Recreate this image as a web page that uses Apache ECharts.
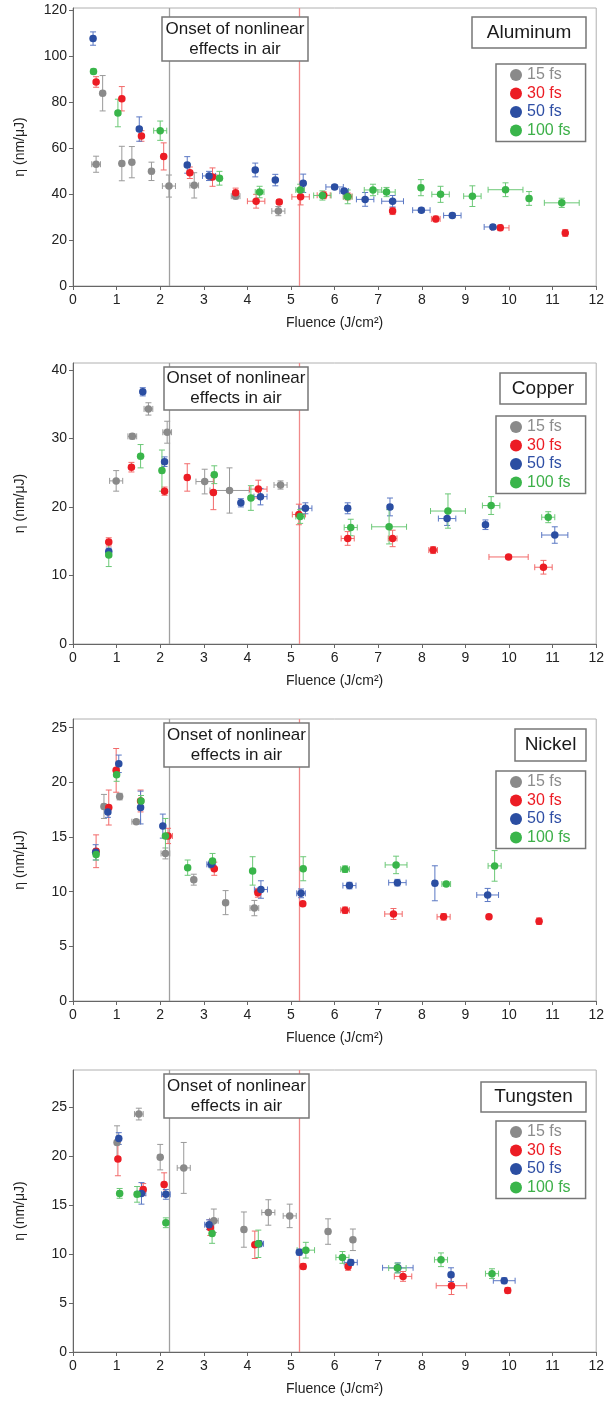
<!DOCTYPE html>
<html><head><meta charset="utf-8">
<script src="https://cdn.jsdelivr.net/npm/echarts@6/dist/echarts.min.js"></script>
<style>html,body{margin:0;padding:0;background:#fff}#c{width:607px;height:1412px}</style>
</head><body><div id="c"></div>
<script>
// ---------- labels ----------
const pulses = ['15 fs', '30 fs', '50 fs', '100 fs'];
const materials = ['Aluminum', 'Copper', 'Nickel', 'Tungsten'];
const onsetText = 'Onset of nonlinear\neffects in air';
const xName = 'Fluence (J/cm²)';
const yName = 'η (nm/μJ)';
const onsetFluence = 2.2;      // grey vertical line
const secondFluence = 5.2;     // red vertical line
const yMax = [121, 41, 25.8, 28.8];
const yStep = [20, 10, 5, 5];

// ---------- data: [fluence, eta, fluenceErr, etaErr] ----------
const al15 = [[0.53,53.0,0.1,3.5],[0.68,83.9,0.05,7.7],[1.12,53.3,0.05,7.5],[1.35,53.9,0.05,6.8],[1.8,49.9,0.05,4],[2.2,43.5,0.15,4.8],[2.78,43.8,0.1,5.5],[3.73,39.1,0.1,1.2],[4.71,32.6,0.15,2]];
const al30 = [[0.53,88.8,0.05,2.3],[1.12,81.5,0.05,5.3],[1.57,65.3,0.05,2.3],[2.08,56.4,0.05,5.9],[2.68,49.3,0.05,2.5],[3.2,47.4,0.1,4],[3.73,40.6,0.05,2],[4.2,36.9,0.2,3],[4.73,36.6,0.05,1],[5.22,38.8,0.2,3.5],[5.75,39.5,0.15,1.5],[6.3,39,0.1,1.5],[7.33,32.6,0.05,1.5],[8.32,29.2,0.1,1.2],[9.8,25.3,0.2,1.2],[11.29,23.1,0.05,1.5]];
const al50 = [[0.46,107.7,0.05,2.9],[1.52,68.3,0.05,5.3],[2.62,52.7,0.05,3.6],[3.12,47.9,0.15,2],[4.18,50.5,0.05,3],[4.64,46.1,0.05,2.5],[5.28,44.7,0.05,4],[6.0,43.1,0.2,1],[6.22,41.3,0.1,1],[6.7,37.7,0.2,3],[7.33,36.9,0.25,2.5],[7.99,33.0,0.2,1],[8.7,30.7,0.2,1],[9.63,25.7,0.2,1]];
const al100 = [[0.47,93.4,0.05,1],[1.03,75.3,0.05,6],[2.0,67.6,0.15,4.2],[3.36,46.9,0.05,3],[4.28,40.9,0.1,2.5],[5.21,41.8,0.1,2.5],[5.72,39.4,0.2,2],[6.3,38.8,0.1,3],[6.88,41.8,0.2,2.5],[7.19,40.9,0.2,2],[7.98,42.8,0.05,3.5],[8.43,39.9,0.2,3.5],[9.16,39.1,0.2,4.5],[9.92,41.9,0.4,3],[10.46,38.1,0.05,3],[11.21,36.2,0.4,2]];

const cu15 = [[0.99,23.8,0.15,1.5],[1.36,30.3,0.1,0.4],[1.73,34.3,0.1,0.9],[2.16,30.9,0.1,1.6],[3.02,23.7,0.2,1.8],[3.59,22.4,0.45,3.3],[4.76,23.2,0.15,0.6]];
const cu30 = [[0.82,14.9,0.05,0.6],[1.34,25.8,0.05,0.7],[2.1,22.3,0.05,0.6],[2.62,24.3,0.05,2],[3.22,22.1,0.05,2.5],[4.25,22.6,0.2,1.3],[5.18,18.9,0.15,1.5],[6.3,15.4,0.15,1],[7.33,15.4,0.1,1.2],[8.26,13.7,0.1,0.5],[9.99,12.7,0.45,0.3],[10.79,11.2,0.2,1]];
const cu50 = [[0.82,13.5,0.05,0.5],[1.6,36.8,0.05,0.6],[2.1,26.6,0.05,0.7],[3.85,20.6,0.05,0.6],[4.3,21.5,0.15,1.2],[5.33,19.8,0.15,0.8],[6.3,19.8,0.05,0.8],[7.27,20.0,0.05,1.3],[8.58,18.3,0.2,1],[9.46,17.4,0.05,0.7],[11.05,15.9,0.3,1.2]];
const cu100 = [[0.82,13.0,0.05,1.7],[1.55,27.4,0.05,1.7],[2.04,25.3,0.05,3],[3.24,24.7,0.05,1.3],[4.08,21.3,0.05,1.8],[5.21,18.6,0.1,1],[6.37,17.0,0.15,1.2],[7.25,17.1,0.4,2.5],[8.6,19.4,0.4,2.5],[9.59,20.2,0.2,1.3],[10.9,18.5,0.15,0.8]];

const ni15 = [[0.71,17.8,0.05,1.1],[1.07,18.7,0.05,0.3],[1.45,16.4,0.1,0.2],[2.12,13.5,0.1,0.5],[2.77,11.1,0.05,0.5],[3.5,9.0,0.05,1.1],[4.16,8.5,0.1,0.7]];
const ni30 = [[0.53,13.7,0.05,1.5],[0.82,17.7,0.05,1.6],[0.99,21.1,0.05,2],[1.55,18.3,0.05,1.0],[2.18,15.1,0.1,0.7],[3.24,12.1,0.05,0.6],[4.24,9.9,0.05,0.4],[5.27,8.9,0.05,0.2],[6.24,8.3,0.1,0.3],[7.35,7.96,0.2,0.5],[8.5,7.7,0.15,0.3],[9.54,7.7,0.05,0.2],[10.69,7.3,0.05,0.3]];
const ni50 = [[0.52,13.6,0.05,0.7],[0.8,17.3,0.05,0.5],[1.05,21.7,0.05,0.8],[1.55,17.7,0.05,1.5],[2.06,16.0,0.05,1.1],[3.17,12.5,0.1,0.3],[4.31,10.2,0.15,0.8],[5.23,9.85,0.1,0.4],[6.34,10.56,0.15,0.3],[7.44,10.83,0.2,0.3],[8.3,10.77,0.05,1.6],[9.51,9.7,0.25,0.6]];
const ni100 = [[0.53,13.4,0.05,0.5],[1.0,20.7,0.05,0.6],[1.56,18.3,0.05,0.5],[2.12,15.1,0.05,1.6],[2.63,12.2,0.05,0.7],[3.2,12.8,0.05,0.7],[4.12,11.9,0.05,1.3],[5.28,12.1,0.05,1.1],[6.24,12.06,0.1,0.3],[7.41,12.45,0.25,0.8],[8.56,10.7,0.1,0.2],[9.67,12.36,0.15,1.4]];

const w15 = [[1.01,21.4,0.05,1.7],[1.51,24.3,0.1,0.6],[2.0,19.9,0.05,1.3],[2.54,18.8,0.15,2.6],[3.23,13.4,0.1,1.2],[3.92,12.5,0.05,1.8],[4.48,14.25,0.15,1.3],[4.97,13.9,0.15,1.2],[5.85,12.3,0.05,1.3],[6.42,11.46,0.05,1.1]];
const w30 = [[1.03,19.7,0.05,1.7],[1.61,16.6,0.05,0.6],[2.09,17.1,0.05,1.2],[3.15,12.7,0.05,0.8],[4.17,10.95,0.05,1.4],[5.28,8.74,0.05,0.3],[6.31,8.74,0.05,0.4],[7.57,7.72,0.2,0.5],[8.68,6.77,0.35,0.9],[9.97,6.29,0.05,0.3]];
const w50 = [[1.05,21.8,0.05,0.6],[1.57,16.2,0.1,1.1],[2.13,16.1,0.1,0.5],[3.12,13.0,0.1,0.5],[4.27,11.05,0.1,0.3],[5.19,10.2,0.05,0.3],[6.37,9.15,0.15,0.3],[7.45,8.6,0.35,0.5],[8.67,7.9,0.05,0.7],[9.89,7.28,0.25,0.3]];
const w100 = [[1.07,16.2,0.05,0.5],[1.47,16.1,0.05,0.8],[2.13,13.2,0.05,0.5],[3.19,12.1,0.05,1],[4.25,11.05,0.05,1.4],[5.34,10.4,0.2,0.8],[6.18,9.66,0.15,0.6],[7.44,8.57,0.2,0.5],[8.44,9.42,0.15,0.7],[9.61,8.0,0.15,0.5]];

const panelData = [[al15, al30, al50, al100],[cu15, cu30, cu50, cu100],[ni15, ni30, ni50, ni100],[w15, w30, w50, w100]];

// ---------- styling ----------
const FONT = '"Liberation Sans", Arial, sans-serif';
const dotColors = ['#8a8a8a', '#ec1c24', '#2b4ea2', '#39b54a'];
const errColors = ['#9a9a9a', '#f26a6a', '#5b78c4', '#6cc877'];
const legendText = ['#8c8c8c', '#ec1c24', '#2f4fa5', '#3db049'];
const gridTops = [8, 363, 719, 1070];
const gridHeights = [278, 281, 282, 282];
const legendTops = [64, 416, 771, 1121];
const titleBoxes = [[472, 17, 114, 31], [500, 373, 86, 31], [515, 729, 71, 32], [481, 1082, 105, 30]];
const onsetBoxes = [[162, 17, 146, 44], [164, 367, 144, 43], [164, 723, 145, 44], [164, 1074, 145, 44]];

function errRender(params, api) {
  const x = api.value(0), y = api.value(1), xe = api.value(2), ye = api.value(3);
  const col = api.visual('color');
  const t = api.coord([x, y + ye]), b = api.coord([x, y - ye]);
  const l = api.coord([x - xe, y]), r = api.coord([x + xe, y]);
  const cap = 3;
  const st = { stroke: col, lineWidth: 1, fill: null };
  const seg = (x1, y1, x2, y2) => ({ type: 'line', shape: { x1, y1, x2, y2 }, style: st });
  return {
    type: 'group',
    children: [
      seg(t[0], t[1], b[0], b[1]),
      seg(t[0] - cap, t[1], t[0] + cap, t[1]),
      seg(b[0] - cap, b[1], b[0] + cap, b[1]),
      seg(l[0], l[1], r[0], r[1]),
      seg(l[0], l[1] - cap, l[0], l[1] + cap),
      seg(r[0], r[1] - cap, r[0], r[1] + cap)
    ]
  };
}

const grids = [], xAxes = [], yAxes = [], series = [], legends = [], graphics = [];
for (let i = 0; i < 4; i++) {
  grids.push({ left: 73, right: 9, top: gridTops[i], height: gridHeights[i], show: true,
    borderColor: '#b0b0b0', borderWidth: 1, backgroundColor: 'transparent' });
  xAxes.push({ type: 'value', gridIndex: i, min: 0, max: 12, interval: 1,
    name: xName, nameLocation: 'middle', nameGap: 30,
    nameTextStyle: { fontSize: 14, color: '#222', fontFamily: FONT },
    axisLine: { show: true, onZero: false, lineStyle: { color: '#666' } },
    axisTick: { show: true, length: 4, lineStyle: { color: '#666' } },
    axisLabel: { fontSize: 14, color: '#222', margin: 7, fontFamily: FONT },
    splitLine: { show: false } });
  yAxes.push({ type: 'value', gridIndex: i, min: 0, max: yMax[i], interval: yStep[i],
    name: yName, nameLocation: 'middle', nameGap: 46,
    nameTextStyle: { fontSize: 14, color: '#222', fontFamily: FONT },
    axisLine: { show: true, lineStyle: { color: '#666' } },
    axisTick: { show: true, length: 4, lineStyle: { color: '#666' } },
    axisLabel: { fontSize: 14, color: '#222', margin: 6, fontFamily: FONT, showMaxLabel: false },
    splitLine: { show: false } });
  for (let j = 0; j < 4; j++) {
    const arr = panelData[i][j];
    series.push({ type: 'custom', name: pulses[j] + ' error', xAxisIndex: i, yAxisIndex: i,
      renderItem: errRender, data: arr, encode: { x: 0, y: 1 }, silent: true, z: 2,
      itemStyle: { color: errColors[j] }, clip: true });
  }
  for (let j = 0; j < 4; j++) {
    const arr = panelData[i][j];
    const s = { type: 'scatter', name: pulses[j], xAxisIndex: i, yAxisIndex: i,
      data: arr.map(d => [d[0], d[1]]), symbol: 'circle', symbolSize: 7.5, z: 3,
      itemStyle: { color: dotColors[j], opacity: 1 } };
    if (j === 0) {
      s.markLine = { symbol: 'none', silent: true, label: { show: false }, z: 1,
        data: [
          { xAxis: onsetFluence, lineStyle: { color: '#a0a0a0', width: 1.3, type: 'solid' } },
          { xAxis: secondFluence, lineStyle: { color: '#f08a8a', width: 1.3, type: 'solid' } }
        ] };
    }
    series.push(s);
  }
  legends.push({ left: 496, top: legendTops[i], orient: 'vertical', icon: 'circle',
    itemWidth: 12, itemHeight: 12, itemGap: 2.5, padding: [3, 15, 3, 14],
    borderColor: '#777', borderWidth: 1.5, backgroundColor: '#fff',
    textStyle: { fontSize: 16, fontFamily: FONT },
    data: pulses.map((p, j) => ({ name: p, textStyle: { color: legendText[j], fontSize: 16, fontFamily: FONT } })) });
  const tb = titleBoxes[i];
  graphics.push({ type: 'rect', z: 100, shape: { x: tb[0], y: tb[1], width: tb[2], height: tb[3] },
    style: { fill: '#fff', stroke: '#777', lineWidth: 1.5 } });
  graphics.push({ type: 'text', z: 101, x: tb[0] + tb[2] / 2, y: tb[1] + tb[3] / 2,
    style: { text: materials[i], align: 'center', verticalAlign: 'middle', fontSize: 19, fontFamily: FONT, fill: '#1a1a1a' } });
  const ob = onsetBoxes[i];
  graphics.push({ type: 'rect', z: 100, shape: { x: ob[0], y: ob[1], width: ob[2], height: ob[3] },
    style: { fill: '#fff', stroke: '#777', lineWidth: 1.5 } });
  graphics.push({ type: 'text', z: 101, x: ob[0] + ob[2] / 2, y: ob[1] + ob[3] / 2,
    style: { text: onsetText, align: 'center', verticalAlign: 'middle', fontSize: 17, lineHeight: 20, fontFamily: FONT, fill: '#1a1a1a' } });
}

const chart = echarts.init(document.getElementById('c'), null, { renderer: 'canvas' });
chart.setOption({
  animation: false,
  backgroundColor: '#fff',
  textStyle: { fontFamily: FONT },
  grid: grids, xAxis: xAxes, yAxis: yAxes, series: series, legend: legends,
  graphic: { elements: graphics }
});
</script></body></html>
